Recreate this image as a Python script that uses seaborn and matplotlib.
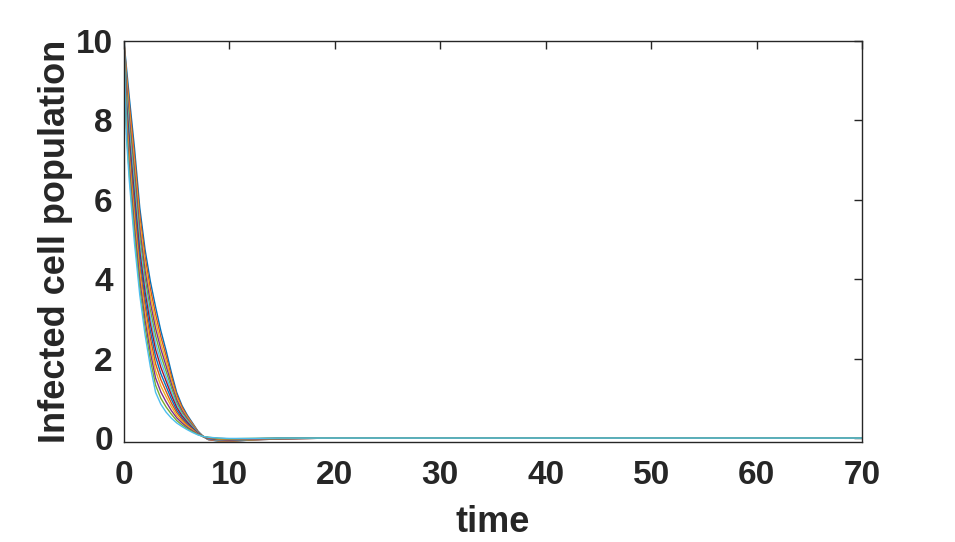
import matplotlib
matplotlib.use("Agg")
import matplotlib.pyplot as plt
import seaborn as sns
import pandas as pd

# time grid shared by every run
time = [0, 0.25, 0.5, 1, 1.5, 2, 2.5, 3, 3.5, 4, 4.5, 5, 5.5, 6, 6.5, 7, 7.5, 8, 9, 10, 12, 15, 20, 70]

# infected cell population, fastest decay (run_00) to slowest (run_12)
run_00 = [10, 7.5, 6.5, 4.9, 3.6, 2.6, 1.8, 1.15, 0.85, 0.65, 0.5, 0.38, 0.29, 0.21, 0.14, 0.08, 0.04, 0.02, 0, -0.01, -0.01, 0, 0, 0]
run_01 = [10, 7.65, 6.68, 5.1, 3.78, 2.78, 1.98, 1.33, 1.0, 0.78, 0.6, 0.44, 0.33, 0.24, 0.16, 0.09, 0.04, 0.02, -0.01, -0.02, -0.01, 0, 0, 0]
run_02 = [10, 7.8, 6.85, 5.3, 3.97, 2.96, 2.16, 1.51, 1.16, 0.91, 0.69, 0.51, 0.38, 0.27, 0.18, 0.1, 0.04, 0.01, -0.01, -0.02, -0.02, 0, 0, 0]
run_03 = [10, 7.95, 7.03, 5.5, 4.15, 3.14, 2.34, 1.69, 1.31, 1.04, 0.79, 0.57, 0.42, 0.3, 0.2, 0.1, 0.04, 0.01, -0.02, -0.03, -0.02, -0.01, 0, 0]
run_04 = [10, 8.1, 7.2, 5.7, 4.33, 3.32, 2.52, 1.87, 1.47, 1.17, 0.88, 0.64, 0.47, 0.33, 0.22, 0.11, 0.04, 0.0, -0.03, -0.04, -0.02, -0.01, 0, 0]
run_05 = [10, 8.25, 7.38, 5.9, 4.52, 3.5, 2.7, 2.05, 1.62, 1.3, 0.98, 0.7, 0.51, 0.36, 0.24, 0.12, 0.04, -0.01, -0.03, -0.04, -0.03, -0.01, 0, 0]
run_06 = [10, 8.4, 7.55, 6.1, 4.7, 3.68, 2.88, 2.23, 1.78, 1.43, 1.08, 0.77, 0.56, 0.4, 0.26, 0.13, 0.04, -0.01, -0.04, -0.05, -0.03, -0.01, 0, 0]
run_07 = [10, 8.55, 7.73, 6.3, 4.88, 3.85, 3.05, 2.4, 1.93, 1.55, 1.17, 0.83, 0.6, 0.43, 0.28, 0.14, 0.04, -0.02, -0.05, -0.06, -0.03, -0.01, 0, 0]
run_08 = [10, 8.7, 7.9, 6.5, 5.07, 4.03, 3.23, 2.58, 2.08, 1.68, 1.27, 0.89, 0.64, 0.46, 0.3, 0.15, 0.04, -0.02, -0.05, -0.06, -0.04, -0.01, 0, 0]
run_09 = [10, 8.85, 8.08, 6.7, 5.25, 4.21, 3.41, 2.76, 2.24, 1.81, 1.36, 0.96, 0.69, 0.49, 0.32, 0.16, 0.04, -0.03, -0.06, -0.07, -0.04, -0.02, 0, 0]
run_10 = [10, 9.0, 8.25, 6.9, 5.43, 4.39, 3.59, 2.94, 2.39, 1.94, 1.46, 1.02, 0.73, 0.52, 0.34, 0.16, 0.04, -0.03, -0.07, -0.08, -0.04, -0.02, 0, 0]
run_11 = [10, 9.15, 8.43, 7.1, 5.62, 4.57, 3.77, 3.12, 2.55, 2.07, 1.55, 1.09, 0.78, 0.55, 0.36, 0.17, 0.04, -0.04, -0.07, -0.08, -0.05, -0.02, 0, 0]
run_12 = [10, 9.3, 8.6, 7.3, 5.8, 4.75, 3.95, 3.3, 2.7, 2.2, 1.65, 1.15, 0.82, 0.58, 0.38, 0.18, 0.04, -0.04, -0.08, -0.09, -0.05, -0.02, 0, 0]

# drawn slowest first so the fastest run (cyan) ends on top, like the original
runs = [run_12, run_11, run_10, run_09, run_08, run_07, run_06,
        run_05, run_04, run_03, run_02, run_01, run_00]

x_ticks = [0, 10, 20, 30, 40, 50, 60, 70]
y_ticks = [0, 2, 4, 6, 8, 10]

# MATLAB default colour order
matlab_colors = ["#0072BD", "#D95319", "#EDB120", "#7E2F8E",
                 "#77AC30", "#4DBEEE", "#A2142F"]

sns.set_theme(style="white")
plt.rcParams["font.family"] = ["Liberation Sans", "DejaVu Sans"]

rows = []
for i, vals in enumerate(runs):
    for t, v in zip(time, vals):
        rows.append({"time": t, "infected": v, "run": i})
df = pd.DataFrame(rows)

palette = [matlab_colors[i % len(matlab_colors)] for i in range(len(runs))]

fig = plt.figure(figsize=(9.55, 5.42), dpi=100)
ax = fig.add_axes([0.1298, 0.1845, 0.7728, 0.7399])

sns.lineplot(data=df, x="time", y="infected", hue="run", palette=palette,
             linewidth=1.0, legend=False, ax=ax, sort=False)

ax.set_xlim(0, 70)
ax.set_ylim(-0.1, 10)
ax.set_xticks(x_ticks)
ax.set_yticks(y_ticks)
ax.tick_params(direction="in", length=6, width=1.0, top=True, right=True,
               labelsize=24, colors="#262626")
ax.tick_params(axis="x", pad=13)
ax.tick_params(axis="y", pad=8)
for lab in ax.get_xticklabels() + ax.get_yticklabels():
    lab.set_fontweight("bold")
for sp in ax.spines.values():
    sp.set_visible(True)
    sp.set_color("#262626")
    sp.set_linewidth(1.0)

ax.set_xlabel("time", fontsize=26, fontweight="bold", color="#262626", labelpad=10)
ax.set_ylabel("Infected cell population", fontsize=26, fontweight="bold",
              color="#262626", labelpad=2)

fig.savefig("out.png", dpi=100, facecolor="white")
